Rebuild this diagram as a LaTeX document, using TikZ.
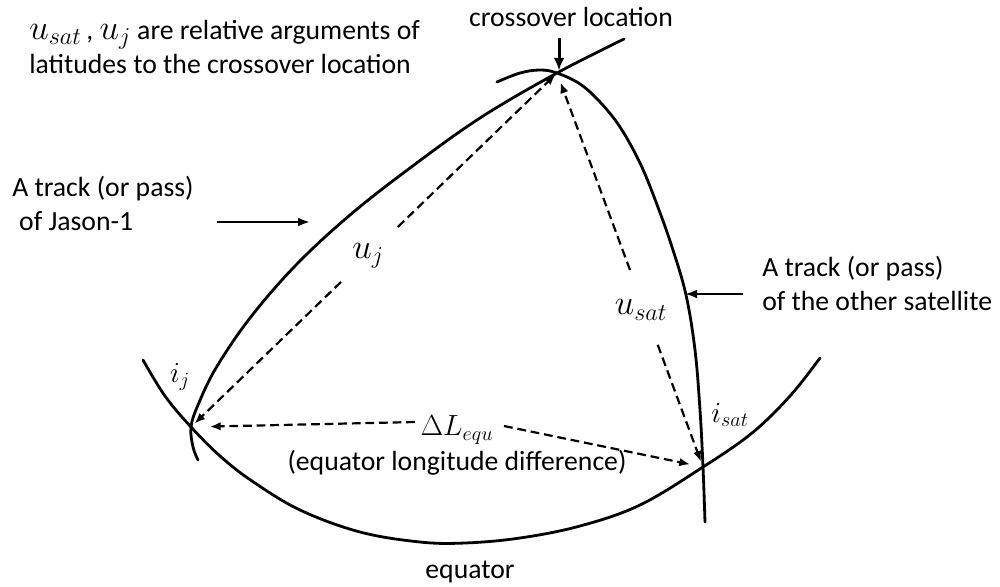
\documentclass[tikz,border=0pt]{standalone}
\usepackage{fontspec}
\setmainfont{Carlito}
\usetikzlibrary{arrows.meta,calc}
\begin{document}
\begin{tikzpicture}[x=0.025cm,y=-0.025cm,
  txt/.style={font=\fontsize{19.7}{24.2}\selectfont, inner sep=0pt},
  mlab/.style={font=\fontsize{22}{26}\selectfont, inner sep=0pt},
  ulab/.style={font=\fontsize{25}{28}\selectfont, inner sep=0pt},
  track/.style={line width=0.07cm, line cap=round},
  dsh/.style={line width=0.055cm, dash pattern=on 0.22cm off 0.12cm, -{Latex[length=0.27cm,width=0.21cm]}},
  pointer/.style={line width=0.055cm, -{Latex[length=0.3cm,width=0.22cm]}},
]
\useasboundingbox (0,0) rectangle (1000,586);

% key points
\coordinate (C) at (557,73);
\coordinate (Ij) at (191,427);
\coordinate (Is) at (703,467);

% Jason-1 track
\draw[track] plot[smooth, tension=0.6] coordinates {(624,39) (557,73) (480,118) (410,168) (350,215) (296,265) (250,318) (216,368) (198,405) (191,427) (193,447) (198,460)};
% other satellite track
\draw[track] plot[smooth, tension=0.6] coordinates {(497,82) (520,73) (540,70) (557,73) (580,84) (600,102) (620,127) (640,163) (656,202) (672,247) (686,295) (695,350) (700,410) (703,467) (705,522)};
% equator
\draw[track] plot[smooth, tension=0.6] coordinates {(143,360) (165,396) (191,427) (220,456) (252,481) (300,510) (360,532) (420,542) (465,543) (520,538) (580,526) (640,505) (703,467) (752,433) (790,396) (820,358)};

% texts
\node[txt, anchor=west, align=left] (tl) at (29,47) {{\fontsize{23}{24}\selectfont$u_{sat}$}\,, {\fontsize{23}{24}\selectfont$u_j$} are relative arguments of\\latitudes to the crossover location};
\node[txt] (xl) at (571,17) {crossover location};
\node[txt, anchor=west, align=left] (jlab) at (12,203) {A track (or pass)\\\hspace*{0.25em}of Jason-1};
\node[txt, anchor=west, align=left] (slab) at (762,283) {A track (or pass)\\of the other satellite};
\node[txt] (eld) at (457,463) {(equator longitude difference)};
\node[txt] (eq) at (470,572) {equator};

\node[ulab] (uj) at (368,256) {$u_j$};
\node[ulab] (us) at (641,310) {$u_{sat}$};
\node[mlab] (ijl) at (180,377) {$i_j$};
\node[mlab] (isl) at (730,415) {$i_{sat}$};
\node[font=\fontsize{20.5}{24}\selectfont, inner sep=0pt] (dl) at (457,430) {$\Delta L_{equ}$};

% pointer arrows
\coordinate (xt) at (559,38);
\draw[line width=0.075cm, -{Latex[length=0.32cm,width=0.27cm]}, shorten >=0.06cm] (xt) -- (C -| xt);
\coordinate (ja) at (217,222);
\coordinate (jb) at (310,222);
\draw[pointer] (ja) -- (jb);
\coordinate (sa) at (743,294);
\coordinate (sb) at (685,294);
\draw[pointer] (sa) -- (sb);

% dashed connectors
\coordinate (jU) at ($(C)!0.435!(Ij)$);
\coordinate (jL) at ($(C)!0.59!(Ij)$);
\draw[dsh, shorten >=0.05cm] (jU) -- (C);
\draw[dsh, shorten >=0.12cm] (jL) -- (Ij);

\coordinate (sU) at ($(C)!0.50!(Is)$);
\coordinate (sL) at ($(C)!0.69!(Is)$);
\draw[dsh, shorten >=0.25cm] (sU) -- (C);
\draw[dsh, shorten >=0.14cm] (sL) -- (Is);

\coordinate (dL) at (415,422);
\coordinate (dR) at (504,426);
\draw[dsh, shorten >=0.47cm] (dL) -- (Ij);
\draw[dsh, shorten >=0.33cm] (dR) -- (Is);
\end{tikzpicture}
\end{document}
